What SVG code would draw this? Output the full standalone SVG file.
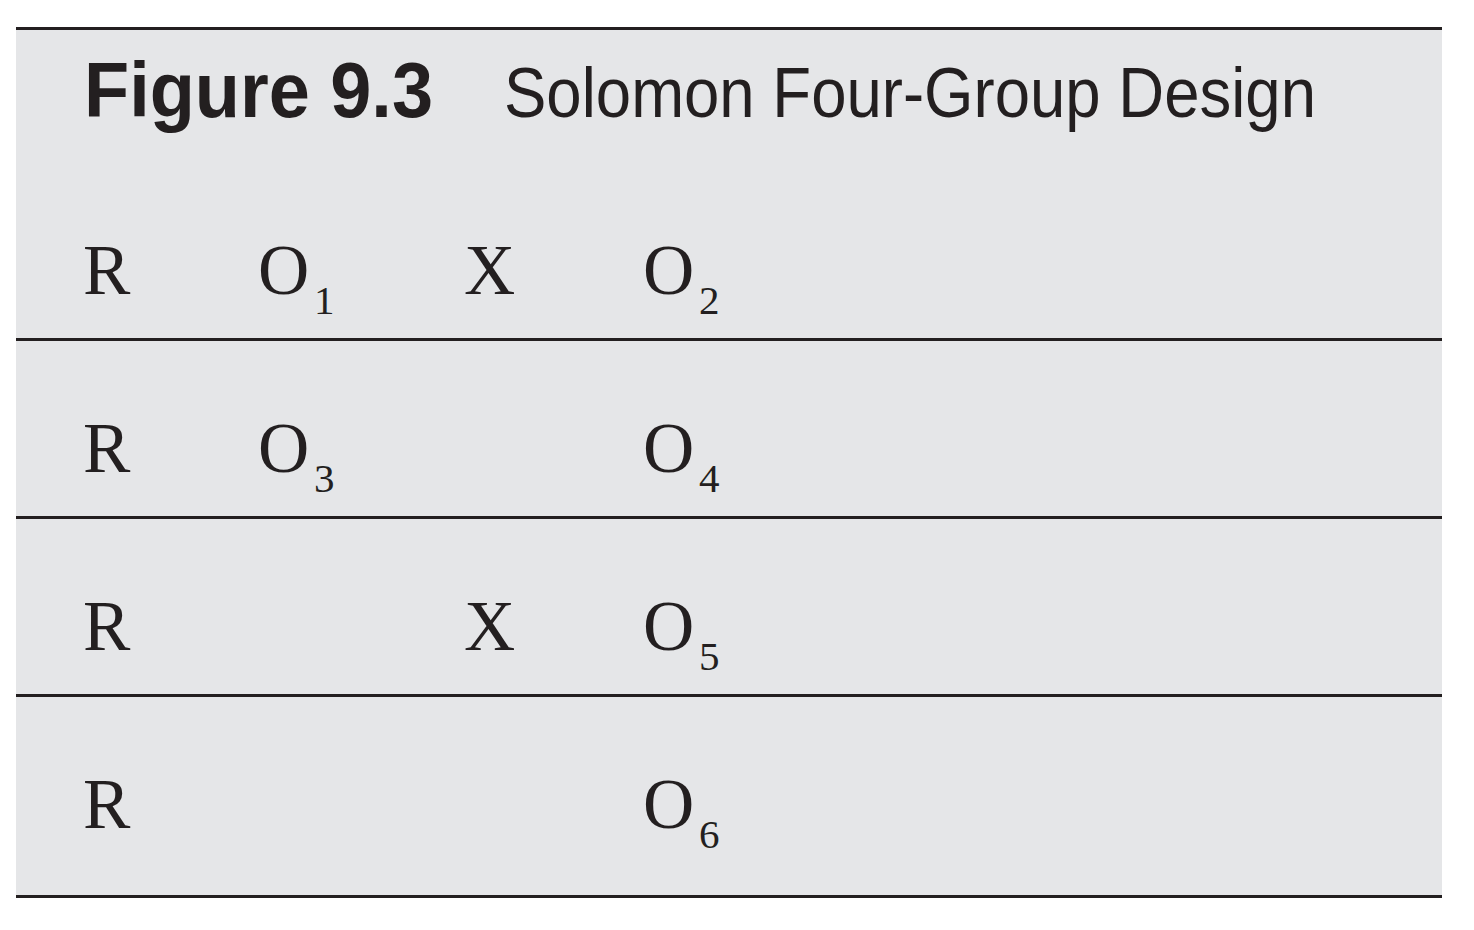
<svg xmlns="http://www.w3.org/2000/svg" width="1474" height="930" viewBox="0 0 1474 930">
<style>
.rule{stroke:#231f20;stroke-width:3;fill:none}
.sym{font-family:"Liberation Serif",serif;font-size:71px;fill:#231f20}
.sub{font-family:"Liberation Serif",serif;font-size:41px;fill:#231f20}
.t1{font-family:"Liberation Sans",sans-serif;font-weight:bold;font-size:77px;fill:#231f20}
.t2{font-family:"Liberation Sans",sans-serif;font-size:71px;fill:#231f20}
</style>
<rect width="1474" height="930" fill="#ffffff"/>
<rect x="16" y="28" width="1426" height="869" fill="#e5e6e8"/>
<g id="title">
<text class="t1" x="84" y="117" textLength="349" lengthAdjust="spacingAndGlyphs">Figure 9.3</text>
<text class="t2" x="504" y="117" textLength="812" lengthAdjust="spacingAndGlyphs">Solomon Four-Group Design</text>
</g>
<g id="rules">
<line class="rule" x1="16" y1="28.5" x2="1442" y2="28.5"/>
<line class="rule" x1="16" y1="339.5" x2="1442" y2="339.5"/>
<line class="rule" x1="16" y1="517.5" x2="1442" y2="517.5"/>
<line class="rule" x1="16" y1="695.5" x2="1442" y2="695.5"/>
<line class="rule" x1="16" y1="896.5" x2="1442" y2="896.5"/>
</g>
<g id="row1">
<text class="sym" x="83" y="294">R</text>
<text class="sym" x="258" y="294">O</text><text class="sub" x="314" y="314">1</text>
<text class="sym" x="464" y="294">X</text>
<text class="sym" x="643" y="294">O</text><text class="sub" x="699" y="314">2</text>
</g>
<g id="row2">
<text class="sym" x="83" y="472">R</text>
<text class="sym" x="258" y="472">O</text><text class="sub" x="314" y="492">3</text>
<text class="sym" x="643" y="472">O</text><text class="sub" x="699" y="492">4</text>
</g>
<g id="row3">
<text class="sym" x="83" y="650">R</text>
<text class="sym" x="464" y="650">X</text>
<text class="sym" x="643" y="650">O</text><text class="sub" x="699" y="670">5</text>
</g>
<g id="row4">
<text class="sym" x="83" y="828">R</text>
<text class="sym" x="643" y="828">O</text><text class="sub" x="699" y="848">6</text>
</g>
</svg>
